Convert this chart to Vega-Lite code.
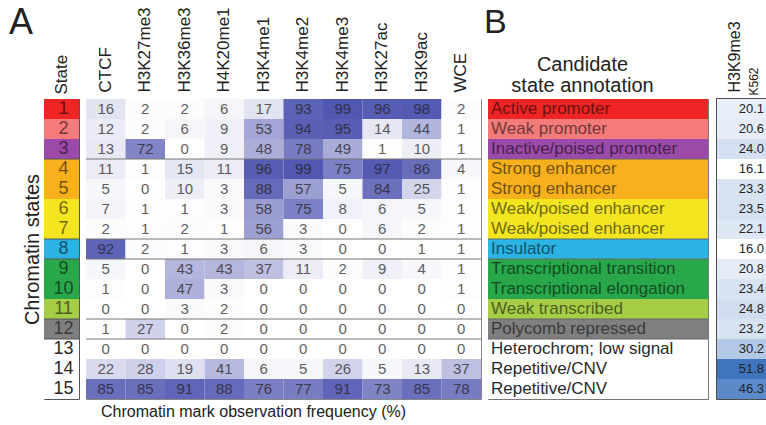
{
  "$schema": "https://vega.github.io/schema/vega-lite/v6.json",
  "padding": {"left": 8, "top": 4, "right": 0, "bottom": 0},
  "background": "#ffffff",
  "config": {
    "font": "Liberation Sans",
    "view": {"stroke": null},
    "axis": {"labelColor": "#222", "titleColor": "#222", "domain": false, "ticks": false, "grid": false, "titleFontWeight": "normal"},
    "title": {"color": "#222", "fontWeight": "normal"}
  },
  "datasets": {
    "heat": [
      {"s":1,"m":"CTCF","v":16},{"s":1,"m":"H3K27me3","v":2},{"s":1,"m":"H3K36me3","v":2},{"s":1,"m":"H4K20me1","v":6},{"s":1,"m":"H3K4me1","v":17},{"s":1,"m":"H3K4me2","v":93},{"s":1,"m":"H3K4me3","v":99},{"s":1,"m":"H3K27ac","v":96},{"s":1,"m":"H3K9ac","v":98},{"s":1,"m":"WCE","v":2},
      {"s":2,"m":"CTCF","v":12},{"s":2,"m":"H3K27me3","v":2},{"s":2,"m":"H3K36me3","v":6},{"s":2,"m":"H4K20me1","v":9},{"s":2,"m":"H3K4me1","v":53},{"s":2,"m":"H3K4me2","v":94},{"s":2,"m":"H3K4me3","v":95},{"s":2,"m":"H3K27ac","v":14},{"s":2,"m":"H3K9ac","v":44},{"s":2,"m":"WCE","v":1},
      {"s":3,"m":"CTCF","v":13},{"s":3,"m":"H3K27me3","v":72},{"s":3,"m":"H3K36me3","v":0},{"s":3,"m":"H4K20me1","v":9},{"s":3,"m":"H3K4me1","v":48},{"s":3,"m":"H3K4me2","v":78},{"s":3,"m":"H3K4me3","v":49},{"s":3,"m":"H3K27ac","v":1},{"s":3,"m":"H3K9ac","v":10},{"s":3,"m":"WCE","v":1},
      {"s":4,"m":"CTCF","v":11},{"s":4,"m":"H3K27me3","v":1},{"s":4,"m":"H3K36me3","v":15},{"s":4,"m":"H4K20me1","v":11},{"s":4,"m":"H3K4me1","v":96},{"s":4,"m":"H3K4me2","v":99},{"s":4,"m":"H3K4me3","v":75},{"s":4,"m":"H3K27ac","v":97},{"s":4,"m":"H3K9ac","v":86},{"s":4,"m":"WCE","v":4},
      {"s":5,"m":"CTCF","v":5},{"s":5,"m":"H3K27me3","v":0},{"s":5,"m":"H3K36me3","v":10},{"s":5,"m":"H4K20me1","v":3},{"s":5,"m":"H3K4me1","v":88},{"s":5,"m":"H3K4me2","v":57},{"s":5,"m":"H3K4me3","v":5},{"s":5,"m":"H3K27ac","v":84},{"s":5,"m":"H3K9ac","v":25},{"s":5,"m":"WCE","v":1},
      {"s":6,"m":"CTCF","v":7},{"s":6,"m":"H3K27me3","v":1},{"s":6,"m":"H3K36me3","v":1},{"s":6,"m":"H4K20me1","v":3},{"s":6,"m":"H3K4me1","v":58},{"s":6,"m":"H3K4me2","v":75},{"s":6,"m":"H3K4me3","v":8},{"s":6,"m":"H3K27ac","v":6},{"s":6,"m":"H3K9ac","v":5},{"s":6,"m":"WCE","v":1},
      {"s":7,"m":"CTCF","v":2},{"s":7,"m":"H3K27me3","v":1},{"s":7,"m":"H3K36me3","v":2},{"s":7,"m":"H4K20me1","v":1},{"s":7,"m":"H3K4me1","v":56},{"s":7,"m":"H3K4me2","v":3},{"s":7,"m":"H3K4me3","v":0},{"s":7,"m":"H3K27ac","v":6},{"s":7,"m":"H3K9ac","v":2},{"s":7,"m":"WCE","v":1},
      {"s":8,"m":"CTCF","v":92},{"s":8,"m":"H3K27me3","v":2},{"s":8,"m":"H3K36me3","v":1},{"s":8,"m":"H4K20me1","v":3},{"s":8,"m":"H3K4me1","v":6},{"s":8,"m":"H3K4me2","v":3},{"s":8,"m":"H3K4me3","v":0},{"s":8,"m":"H3K27ac","v":0},{"s":8,"m":"H3K9ac","v":1},{"s":8,"m":"WCE","v":1},
      {"s":9,"m":"CTCF","v":5},{"s":9,"m":"H3K27me3","v":0},{"s":9,"m":"H3K36me3","v":43},{"s":9,"m":"H4K20me1","v":43},{"s":9,"m":"H3K4me1","v":37},{"s":9,"m":"H3K4me2","v":11},{"s":9,"m":"H3K4me3","v":2},{"s":9,"m":"H3K27ac","v":9},{"s":9,"m":"H3K9ac","v":4},{"s":9,"m":"WCE","v":1},
      {"s":10,"m":"CTCF","v":1},{"s":10,"m":"H3K27me3","v":0},{"s":10,"m":"H3K36me3","v":47},{"s":10,"m":"H4K20me1","v":3},{"s":10,"m":"H3K4me1","v":0},{"s":10,"m":"H3K4me2","v":0},{"s":10,"m":"H3K4me3","v":0},{"s":10,"m":"H3K27ac","v":0},{"s":10,"m":"H3K9ac","v":0},{"s":10,"m":"WCE","v":1},
      {"s":11,"m":"CTCF","v":0},{"s":11,"m":"H3K27me3","v":0},{"s":11,"m":"H3K36me3","v":3},{"s":11,"m":"H4K20me1","v":2},{"s":11,"m":"H3K4me1","v":0},{"s":11,"m":"H3K4me2","v":0},{"s":11,"m":"H3K4me3","v":0},{"s":11,"m":"H3K27ac","v":0},{"s":11,"m":"H3K9ac","v":0},{"s":11,"m":"WCE","v":0},
      {"s":12,"m":"CTCF","v":1},{"s":12,"m":"H3K27me3","v":27},{"s":12,"m":"H3K36me3","v":0},{"s":12,"m":"H4K20me1","v":2},{"s":12,"m":"H3K4me1","v":0},{"s":12,"m":"H3K4me2","v":0},{"s":12,"m":"H3K4me3","v":0},{"s":12,"m":"H3K27ac","v":0},{"s":12,"m":"H3K9ac","v":0},{"s":12,"m":"WCE","v":0},
      {"s":13,"m":"CTCF","v":0},{"s":13,"m":"H3K27me3","v":0},{"s":13,"m":"H3K36me3","v":0},{"s":13,"m":"H4K20me1","v":0},{"s":13,"m":"H3K4me1","v":0},{"s":13,"m":"H3K4me2","v":0},{"s":13,"m":"H3K4me3","v":0},{"s":13,"m":"H3K27ac","v":0},{"s":13,"m":"H3K9ac","v":0},{"s":13,"m":"WCE","v":0},
      {"s":14,"m":"CTCF","v":22},{"s":14,"m":"H3K27me3","v":28},{"s":14,"m":"H3K36me3","v":19},{"s":14,"m":"H4K20me1","v":41},{"s":14,"m":"H3K4me1","v":6},{"s":14,"m":"H3K4me2","v":5},{"s":14,"m":"H3K4me3","v":26},{"s":14,"m":"H3K27ac","v":5},{"s":14,"m":"H3K9ac","v":13},{"s":14,"m":"WCE","v":37},
      {"s":15,"m":"CTCF","v":85},{"s":15,"m":"H3K27me3","v":85},{"s":15,"m":"H3K36me3","v":91},{"s":15,"m":"H4K20me1","v":88},{"s":15,"m":"H3K4me1","v":76},{"s":15,"m":"H3K4me2","v":77},{"s":15,"m":"H3K4me3","v":91},{"s":15,"m":"H3K27ac","v":73},{"s":15,"m":"H3K9ac","v":85},{"s":15,"m":"WCE","v":78}
    ],
    "states": [
      {"s":1,"col":"State","a":"ann","cell":"K562","label":"Active promoter","k":20.1},
      {"s":2,"col":"State","a":"ann","cell":"K562","label":"Weak promoter","k":20.6},
      {"s":3,"col":"State","a":"ann","cell":"K562","label":"Inactive/poised promoter","k":24.0},
      {"s":4,"col":"State","a":"ann","cell":"K562","label":"Strong enhancer","k":16.1},
      {"s":5,"col":"State","a":"ann","cell":"K562","label":"Strong enhancer","k":23.3},
      {"s":6,"col":"State","a":"ann","cell":"K562","label":"Weak/poised enhancer","k":23.5},
      {"s":7,"col":"State","a":"ann","cell":"K562","label":"Weak/poised enhancer","k":22.1},
      {"s":8,"col":"State","a":"ann","cell":"K562","label":"Insulator","k":16.0},
      {"s":9,"col":"State","a":"ann","cell":"K562","label":"Transcriptional transition","k":20.8},
      {"s":10,"col":"State","a":"ann","cell":"K562","label":"Transcriptional elongation","k":23.4},
      {"s":11,"col":"State","a":"ann","cell":"K562","label":"Weak transcribed","k":24.8},
      {"s":12,"col":"State","a":"ann","cell":"K562","label":"Polycomb repressed","k":23.2},
      {"s":13,"col":"State","a":"ann","cell":"K562","label":"Heterochrom; low signal","k":30.2},
      {"s":14,"col":"State","a":"ann","cell":"K562","label":"Repetitive/CNV","k":51.8},
      {"s":15,"col":"State","a":"ann","cell":"K562","label":"Repetitive/CNV","k":46.3}
    ],
    "bounds": [{"s":4},{"s":8},{"s":9},{"s":12},{"s":13}]
  },
  "resolve": {"scale": {"color": "independent", "x": "independent", "y": "independent"}},
  "spacing": 1,
  "hconcat": [
    {
      "spacing": 5,
      "resolve": {"scale": {"color": "independent", "x": "independent", "y": "independent"}},
      "hconcat": [
        {
          "width": 35, "height": 300,
          "title": {"text": "A", "fontSize": 36, "anchor": "start", "dx": -35, "offset": 12, "frame": "group"},
          "view": {"stroke": "#555", "strokeWidth": 1},
          "layer": [
            {
              "data": {"name": "states"},
              "mark": {"type": "rect"},
              "encoding": {
                "x": {"field": "col", "type": "nominal", "scale": {"paddingInner": 0, "paddingOuter": 0}, "axis": {"orient": "top", "title": null, "labelAngle": -90, "labelFontSize": 17, "labelPadding": 5}},
                "y": {"field": "s", "type": "ordinal", "scale": {"paddingInner": 0, "paddingOuter": 0}, "axis": {"labels": false, "title": "Chromatin states", "titleFontSize": 20, "titlePadding": 2}},
                "color": {"field": "s", "type": "ordinal", "legend": null, "scale": {"domain": [1,2,3,4,5,6,7,8,9,10,11,12,13,14,15], "range": ["#ee2524","#f47b7a","#9c4aa9","#f8b11d","#f8b11d","#f3e620","#f3e620","#2bb3e4","#29a84b","#29a84b","#a6cd46","#7f7f80","#ffffff","#ffffff","#ffffff"]}}
              }
            },
            {
              "data": {"name": "states"},
              "mark": {"type": "text", "fontSize": 18, "dx": 2, "color": "#000"},
              "encoding": {
                "x": {"field": "col", "type": "nominal"},
                "y": {"field": "s", "type": "ordinal"},
                "text": {"field": "s", "type": "ordinal"},
                "opacity": {"condition": {"test": "datum.s >= 13", "value": 0.85}, "value": 0.55}
              }
            },
            {
              "data": {"name": "bounds"},
              "mark": {"type": "rule", "color": "#555", "strokeWidth": 1},
              "encoding": {"y": {"field": "s", "type": "ordinal", "bandPosition": 0}}
            }
          ]
        },
        {
          "width": 395, "height": 300,
          "title": {"text": "Chromatin mark observation frequency (%)", "orient": "bottom", "anchor": "start", "dx": 15, "fontSize": 16, "offset": 5, "frame": "group"},
          "view": {"stroke": "#888", "strokeWidth": 1},
          "layer": [
            {
              "data": {"name": "heat"},
              "mark": {"type": "rect"},
              "encoding": {
                "x": {"field": "m", "type": "nominal", "sort": ["CTCF","H3K27me3","H3K36me3","H4K20me1","H3K4me1","H3K4me2","H3K4me3","H3K27ac","H3K9ac","WCE"], "scale": {"paddingInner": 0, "paddingOuter": 0}, "axis": {"orient": "top", "title": null, "labelAngle": -90, "labelFontSize": 17, "labelPadding": 7}},
                "y": {"field": "s", "type": "ordinal", "scale": {"paddingInner": 0, "paddingOuter": 0}, "axis": null},
                "color": {"field": "v", "type": "quantitative", "legend": null, "scale": {"domain": [0, 100], "range": ["#ffffff", "#5056b0"], "interpolate": "rgb"}}
              }
            },
            {
              "data": {"name": "heat"},
              "mark": {"type": "text", "fontSize": 15, "color": "#222", "opacity": 0.72},
              "encoding": {
                "x": {"field": "m", "type": "nominal", "sort": ["CTCF","H3K27me3","H3K36me3","H4K20me1","H3K4me1","H3K4me2","H3K4me3","H3K27ac","H3K9ac","WCE"]},
                "y": {"field": "s", "type": "ordinal"},
                "text": {"field": "v", "type": "quantitative"}
              }
            },
            {
              "data": {"name": "bounds"},
              "mark": {"type": "rule", "color": "#777", "strokeWidth": 1},
              "encoding": {"y": {"field": "s", "type": "ordinal", "bandPosition": 0}}
            }
          ]
        }
      ]
    },
    {
      "spacing": 7,
      "resolve": {"scale": {"color": "independent", "x": "independent", "y": "independent"}},
      "hconcat": [
        {
          "width": 220, "height": 300,
          "title": {"text": "B", "fontSize": 34, "anchor": "start", "dx": -4, "offset": 14, "frame": "group"},
          "view": {"stroke": "#777", "strokeWidth": 1},
          "layer": [
            {
              "data": {"name": "states"},
              "mark": {"type": "rect"},
              "encoding": {
                "x": {"field": "a", "type": "nominal", "scale": {"paddingInner": 0, "paddingOuter": 0}, "axis": {"orient": "top", "labels": false, "title": ["Candidate", "state annotation"], "titleFontSize": 20, "titleLineHeight": 21, "titlePadding": 4, "titleX": 94}},
                "y": {"field": "s", "type": "ordinal", "scale": {"paddingInner": 0, "paddingOuter": 0}, "axis": null},
                "color": {"field": "s", "type": "ordinal", "legend": null, "scale": {"domain": [1,2,3,4,5,6,7,8,9,10,11,12,13,14,15], "range": ["#ee2524","#f47b7a","#9c4aa9","#f8b11d","#f8b11d","#f3e620","#f3e620","#2bb3e4","#29a84b","#29a84b","#a6cd46","#7f7f80","#ffffff","#ffffff","#ffffff"]}}
              }
            },
            {
              "data": {"name": "states"},
              "mark": {"type": "text", "fontSize": 17, "align": "left", "dx": 3, "color": "#000"},
              "encoding": {
                "x": {"field": "a", "type": "nominal", "bandPosition": 0},
                "y": {"field": "s", "type": "ordinal"},
                "text": {"field": "label", "type": "nominal"},
                "opacity": {"condition": {"test": "datum.s >= 13", "value": 0.85}, "value": 0.55}
              }
            },
            {
              "data": {"name": "bounds"},
              "mark": {"type": "rule", "color": "#666", "strokeWidth": 1},
              "encoding": {"y": {"field": "s", "type": "ordinal", "bandPosition": 0}}
            }
          ]
        },
        {
          "width": 50, "height": 300,
          "view": {"stroke": "#111", "strokeWidth": 1.5},
          "layer": [
            {
              "data": {"name": "states"},
              "mark": {"type": "rect"},
              "encoding": {
                "x": {"field": "cell", "type": "nominal", "scale": {"paddingInner": 0, "paddingOuter": 0}, "axis": {"orient": "top", "labelAngle": -90, "labelFontSize": 12, "labelOffset": 12, "labelPadding": 4, "title": "H3K9me3", "titleFontSize": 16, "titleAngle": -90, "titleAlign": "left", "titleBaseline": "alphabetic", "titleX": 22, "titleY": -7}},
                "y": {"field": "s", "type": "ordinal", "scale": {"paddingInner": 0, "paddingOuter": 0}, "axis": null},
                "color": {"field": "k", "type": "quantitative", "legend": null, "scale": {"domain": [16, 52], "range": ["#ffffff", "#3d74be"], "interpolate": "rgb"}}
              }
            },
            {
              "data": {"name": "states"},
              "mark": {"type": "text", "fontSize": 13, "align": "right", "dx": -3, "color": "#222"},
              "encoding": {
                "x": {"field": "cell", "type": "nominal", "bandPosition": 1},
                "y": {"field": "s", "type": "ordinal"},
                "text": {"field": "k", "type": "quantitative", "format": ".1f"}
              }
            }
          ]
        }
      ]
    }
  ]
}
